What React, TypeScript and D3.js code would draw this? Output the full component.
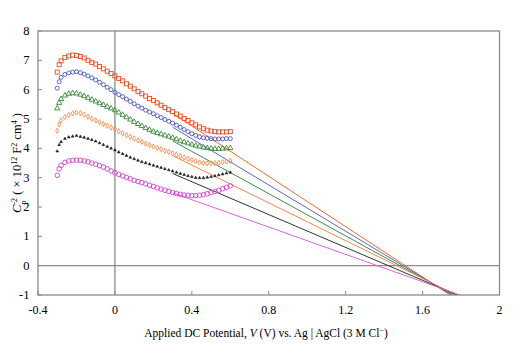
import React from "react";
import * as d3 from "d3";

const V = [-0.3, -0.29, -0.28, -0.26, -0.24, -0.22, -0.2, -0.18, -0.16, -0.14, -0.12, -0.1, -0.08, -0.06, -0.04, -0.02, 0, 0.02, 0.04, 0.06, 0.08, 0.1, 0.12, 0.14, 0.16, 0.18, 0.2, 0.22, 0.24, 0.26, 0.28, 0.3, 0.32, 0.34, 0.36, 0.38, 0.4, 0.42, 0.44, 0.46, 0.48, 0.5, 0.52, 0.54, 0.56, 0.58, 0.6];

const redVals = [6.6, 6.85, 6.98, 7.1, 7.15, 7.18, 7.17, 7.13, 7.08, 7.0, 6.93, 6.87, 6.79, 6.71, 6.63, 6.55, 6.47, 6.38, 6.3, 6.2, 6.12, 6.03, 5.94, 5.86, 5.78, 5.7, 5.63, 5.55, 5.47, 5.39, 5.32, 5.25, 5.17, 5.1, 5.02, 4.95, 4.87, 4.8, 4.73, 4.67, 4.62, 4.59, 4.57, 4.56, 4.56, 4.56, 4.57];
const blueVals = [6.05, 6.27, 6.42, 6.52, 6.57, 6.6, 6.61, 6.58, 6.53, 6.47, 6.4, 6.33, 6.25, 6.17, 6.08, 6.0, 5.91, 5.83, 5.76, 5.68, 5.6, 5.52, 5.44, 5.37, 5.3, 5.24, 5.18, 5.11, 5.05, 4.98, 4.92, 4.86, 4.79, 4.72, 4.64, 4.57, 4.5, 4.44, 4.39, 4.36, 4.34, 4.33, 4.32, 4.32, 4.32, 4.33, 4.33];
const greenVals = [5.36, 5.55, 5.68, 5.8, 5.86, 5.88, 5.87, 5.83, 5.78, 5.72, 5.66, 5.6, 5.54, 5.48, 5.42, 5.36, 5.3, 5.22, 5.14, 5.06, 4.98, 4.9, 4.83, 4.76, 4.69, 4.63, 4.57, 4.52, 4.48, 4.44, 4.4, 4.36, 4.31, 4.26, 4.21, 4.17, 4.13, 4.09, 4.06, 4.03, 4.01, 3.99, 3.98, 3.98, 3.99, 4.0, 4.01];
const orangeVals = [4.6, 4.82, 4.95, 5.07, 5.14, 5.19, 5.22, 5.2, 5.15, 5.08, 5.01, 4.95, 4.89, 4.83, 4.77, 4.71, 4.65, 4.58, 4.51, 4.45, 4.39, 4.33, 4.27, 4.22, 4.16, 4.11, 4.06, 4.01, 3.97, 3.92, 3.88, 3.83, 3.79, 3.74, 3.69, 3.64, 3.6, 3.56, 3.52, 3.5, 3.49, 3.49, 3.5, 3.51, 3.53, 3.55, 3.57];
const blackVals = [3.9, 4.12, 4.22, 4.33, 4.38, 4.41, 4.43, 4.4, 4.37, 4.33, 4.29, 4.24, 4.18, 4.12, 4.06, 4.0, 3.94, 3.87, 3.81, 3.75, 3.69, 3.64, 3.59, 3.54, 3.5, 3.46, 3.42, 3.38, 3.34, 3.3, 3.26, 3.22, 3.18, 3.14, 3.1, 3.06, 3.03, 3.0, 2.99, 2.99, 3.01, 3.03, 3.06, 3.09, 3.12, 3.15, 3.18];
const magentaVals = [3.08, 3.3, 3.42, 3.52, 3.57, 3.59, 3.6, 3.59, 3.57, 3.54, 3.5, 3.46, 3.41, 3.36, 3.3, 3.23, 3.17, 3.11, 3.06, 3.01, 2.96, 2.91, 2.87, 2.83, 2.79, 2.74, 2.7, 2.65, 2.61, 2.57, 2.53, 2.49, 2.46, 2.43, 2.41, 2.4, 2.39, 2.39, 2.4, 2.42, 2.45, 2.49, 2.53, 2.57, 2.62, 2.67, 2.72];

// Mott-Schottky linear fits: x-intercept (flat-band potential) and slope
const fitVfb = [1.51, 1.498, 1.482, 1.465, 1.422, 1.365];
const fitSlope = [-4.29, -3.94, -3.6, -3.22, -2.8, -2.33];
const fitStart = [0.3, 0.3, 0.3, 0.3, 0.3, 0.3];

const seriesColors = ["#f04a1e", "#4a55c0", "#3a8a3a", "#ff8a4c", "#1a1a1a", "#d83fd8"];
const lineColors = ["#f06a30", "#5a68c8", "#3f8a4a", "#f08850", "#2a3a2a", "#e060e0"];
const markerKinds = ["square", "circle", "triangle", "diamond", "smalltri", "circleBig"];

const xTicks = [-0.4, 0, 0.4, 0.8, 1.2, 1.6, 2];
const yTicks = [-1, 0, 1, 2, 3, 4, 5, 6, 7, 8];

const W = 522, H = 355;
const font = "'Liberation Serif', 'Times New Roman', serif";

export default function App() {
  const x = d3.scaleLinear().domain([-0.4, 2]).range([38, 499.5]);
  const y = d3.scaleLinear().domain([-1, 8]).range([295, 31]);
  const allVals = [redVals, blueVals, greenVals, orangeVals, blackVals, magentaVals];

  const marker = (kind: string, cx: number, cy: number, color: string, key: string) => {
    if (kind === "square")
      return <rect key={key} x={cx - 2} y={cy - 2} width={4} height={4} fill="none" stroke={color} strokeWidth={0.9} />;
    if (kind === "circle")
      return <circle key={key} cx={cx} cy={cy} r={2} fill="none" stroke={color} strokeWidth={0.9} />;
    if (kind === "circleBig")
      return <circle key={key} cx={cx} cy={cy} r={2.3} fill="none" stroke={color} strokeWidth={0.9} />;
    if (kind === "triangle") {
      const p = d3.symbol().type(d3.symbolTriangle).size(12)();
      return <path key={key} d={p as string} transform={`translate(${cx},${cy})`} fill="none" stroke={color} strokeWidth={0.9} />;
    }
    if (kind === "diamond") {
      const p = d3.symbol().type(d3.symbolDiamond).size(8)();
      return <path key={key} d={p as string} transform={`translate(${cx},${cy})`} fill="none" stroke={color} strokeWidth={0.9} />;
    }
    const p = d3.symbol().type(d3.symbolTriangle).size(3.5)();
    return <path key={key} d={p as string} transform={`translate(${cx},${cy})`} fill={color} stroke={color} strokeWidth={0.5} />;
  };

  const lineGen = d3.line<[number, number]>().x((d) => x(d[0])).y((d) => y(d[1]));

  return (
    <svg width={W} height={H} style={{ position: "absolute", left: 0, top: 0, background: "#fff" }}>
      <defs>
        <clipPath id="plotClip">
          <rect x={38} y={31} width={461.5} height={264} />
        </clipPath>
      </defs>
      <rect x={0} y={0} width={W} height={H} fill="#fff" />
      {/* zero lines */}
      <line x1={x(0)} x2={x(0)} y1={y(8)} y2={y(-1)} stroke="#8a8a8a" strokeWidth={1.3} />
      <line x1={x(-0.4)} x2={x(2)} y1={y(0)} y2={y(0)} stroke="#8a8a8a" strokeWidth={1.3} />

      {/* fit lines */}
      <g clipPath="url(#plotClip)">
        {fitVfb.map((vfb, i) => {
          const s = fitSlope[i];
          const v0 = fitStart[i];
          const v1 = vfb + (-1.2) / s;
          const pts: [number, number][] = [
            [v0, s * (v0 - vfb)],
            [v1, s * (v1 - vfb)],
          ];
          return <path key={"fit" + i} d={lineGen(pts) as string} fill="none" stroke={lineColors[i]} strokeWidth={1} />;
        })}
      </g>

      {/* data markers */}
      {allVals.map((vals, si) => (
        <g key={"s" + si}>
          {vals.map((v, i) => marker(markerKinds[si], x(V[i]), y(v), seriesColors[si], `m${si}-${i}`))}
        </g>
      ))}

      {/* frame */}
      <rect x={38} y={31} width={461.5} height={264} fill="none" stroke="#8a8a8a" strokeWidth={1.3} />

      {/* ticks */}
      {xTicks.map((t) => (
        <g key={"xt" + t}>
          <line x1={x(t)} x2={x(t)} y1={295} y2={291} stroke="#8a8a8a" strokeWidth={1} />
          <text x={x(t)} y={314} textAnchor="middle" fontFamily={font} fontSize={12} fill="#000">
            {t === -0.4 ? "-0.4" : String(t)}
          </text>
        </g>
      ))}
      {yTicks.map((t) => (
        <g key={"yt" + t}>
          <line x1={38} x2={42} y1={y(t)} y2={y(t)} stroke="#8a8a8a" strokeWidth={1} />
          <text x={29.5} y={y(t) + 4} textAnchor="end" fontFamily={font} fontSize={12.5} fill="#000">
            {String(t)}
          </text>
        </g>
      ))}

      {/* axis titles */}
      <text x={266} y={337} textAnchor="middle" fontFamily={font} fontSize={11.5} fill="#000">
        Applied DC Potential, <tspan fontStyle="italic">V</tspan> (V) vs. Ag | AgCl (3 M Cl
        <tspan baselineShift="super" fontSize={8}>−</tspan>)
      </text>
      <text transform="translate(21,163) rotate(-90)" textAnchor="middle" fontFamily={font} fontSize={12.5} fill="#000">
        <tspan fontStyle="italic">C</tspan>
        <tspan baselineShift="sub" fontSize={8}>p</tspan>
        <tspan dx={-4} baselineShift="super" fontSize={8}>-2</tspan>
        <tspan> ( × 10</tspan>
        <tspan baselineShift="super" fontSize={8}>12</tspan>
        <tspan> F</tspan>
        <tspan baselineShift="super" fontSize={8}>2</tspan>
        <tspan> cm</tspan>
        <tspan baselineShift="super" fontSize={8}>4</tspan>
        <tspan> )</tspan>
      </text>
    </svg>
  );
}
